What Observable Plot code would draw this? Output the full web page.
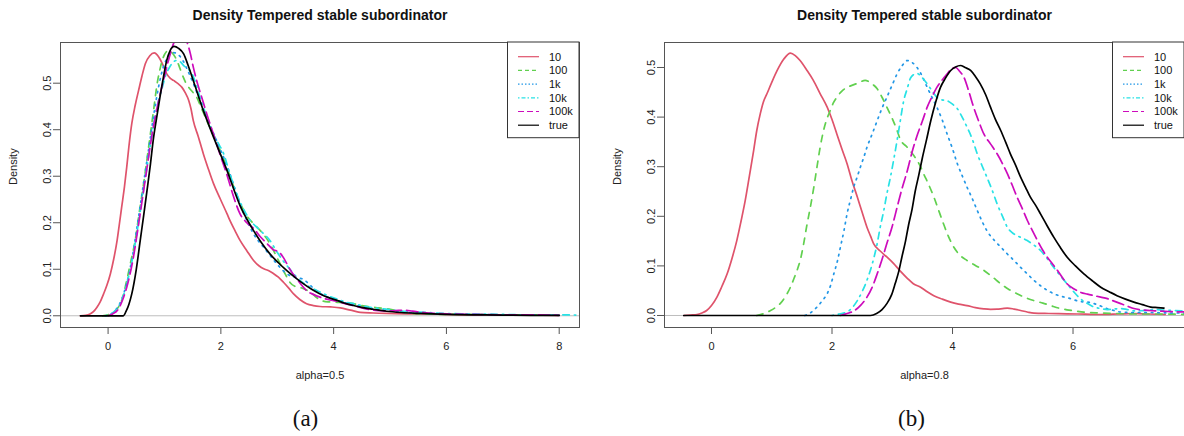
<!DOCTYPE html>
<html>
<head>
<meta charset="utf-8">
<script src="https://cdn.jsdelivr.net/npm/d3@7"></script>
<script src="https://cdn.jsdelivr.net/npm/@observablehq/plot@0.6"></script>
<style>
  html, body { margin: 0; padding: 0; background: #fff; }
  #wrap { display: flex; width: 1184px; height: 436px; overflow: hidden; }
  #wrap > div { width: 592px; height: 436px; }
  svg { display: block; }
</style>
</head>
<body>
<div id="wrap"><div id="pa"></div><div id="pb"></div></div>
<script>
// ---------- data ----------
const seriesNames = ["10", "100", "1k", "10k", "100k", "true"];
const titleText = "Density Tempered stable subordinator";
const xTicks = [0, 2, 4, 6, 8];
const yTicks = [0, 0.1, 0.2, 0.3, 0.4, 0.5];
const xLabels = ["alpha=0.5", "alpha=0.8"];
const captions = ["(a)", "(b)"];

// panel (a): alpha = 0.5
const a10 = [[-0.49,0],[-0.4,0.001],[-0.32,0.004],[-0.26,0.009],[-0.2,0.018],[-0.14,0.03],[-0.08,0.047],[-0.02,0.066],[0.04,0.09],[0.1,0.122],[0.16,0.162],[0.2,0.197],[0.24,0.233],[0.29,0.277],[0.33,0.319],[0.37,0.365],[0.42,0.413],[0.48,0.452],[0.54,0.484],[0.6,0.515],[0.66,0.542],[0.74,0.559],[0.82,0.565],[0.87,0.561],[0.92,0.552],[0.98,0.537],[1.04,0.52],[1.1,0.511],[1.16,0.506],[1.24,0.499],[1.31,0.491],[1.37,0.479],[1.43,0.463],[1.47,0.445],[1.51,0.42],[1.6,0.385],[1.69,0.348],[1.78,0.315],[1.87,0.284],[1.99,0.251],[2.11,0.219],[2.16,0.205],[2.25,0.183],[2.34,0.162],[2.46,0.14],[2.58,0.119],[2.68,0.107],[2.76,0.101],[2.85,0.097],[2.93,0.091],[3.02,0.083],[3.11,0.072],[3.2,0.06],[3.29,0.047],[3.4,0.035],[3.52,0.026],[3.64,0.022],[3.76,0.02],[3.95,0.019],[4.12,0.017],[4.3,0.012],[4.47,0.0075],[4.7,0.006],[4.94,0.005],[5.5,0.004],[6,0.003],[6.5,0.002],[7,0.002],[7.5,0.0015],[7.98,0.001]];
const a100 = [[-0.1,0],[0,0.002],[0.08,0.007],[0.18,0.018],[0.26,0.04],[0.33,0.076],[0.4,0.115],[0.48,0.162],[0.55,0.22],[0.63,0.284],[0.69,0.337],[0.75,0.391],[0.81,0.445],[0.87,0.499],[0.93,0.535],[0.98,0.556],[1.07,0.57],[1.13,0.566],[1.19,0.556],[1.25,0.54],[1.31,0.52],[1.37,0.503],[1.43,0.491],[1.5,0.481],[1.57,0.47],[1.66,0.445],[1.75,0.42],[1.87,0.387],[1.99,0.355],[2.11,0.318],[2.22,0.28],[2.34,0.243],[2.46,0.215],[2.58,0.198],[2.7,0.183],[2.8,0.168],[2.87,0.155],[2.96,0.134],[3.05,0.112],[3.14,0.09],[3.23,0.071],[3.32,0.063],[3.4,0.061],[3.49,0.057],[3.58,0.051],[3.67,0.042],[3.76,0.034],[3.9,0.03],[4.06,0.029],[4.2,0.028],[4.35,0.026],[4.5,0.022],[4.65,0.019],[4.8,0.017],[4.94,0.015],[5.15,0.01],[5.36,0.005],[5.6,0.004],[6,0.003],[6.5,0.003],[7,0.002],[7.5,0.002],[8,0.001]];
const a1k = [[-0.05,0],[0.05,0.004],[0.15,0.015],[0.25,0.038],[0.33,0.07],[0.42,0.12],[0.5,0.18],[0.58,0.245],[0.66,0.31],[0.74,0.375],[0.82,0.44],[0.9,0.495],[0.98,0.535],[1.06,0.556],[1.15,0.566],[1.24,0.562],[1.33,0.548],[1.42,0.525],[1.51,0.5],[1.6,0.472],[1.69,0.445],[1.78,0.418],[1.87,0.392],[1.99,0.358],[2.11,0.322],[2.22,0.284],[2.34,0.24],[2.46,0.205],[2.58,0.176],[2.67,0.16],[2.76,0.147],[2.87,0.13],[2.99,0.112],[3.08,0.1],[3.17,0.09],[3.26,0.085],[3.35,0.082],[3.45,0.079],[3.55,0.07],[3.65,0.058],[3.76,0.048],[3.9,0.04],[4.06,0.034],[4.2,0.028],[4.35,0.024],[4.5,0.02],[4.65,0.016],[4.8,0.013],[4.94,0.011],[5.2,0.008],[5.5,0.006],[6,0.004],[6.5,0.003],[7,0.002],[7.5,0.002],[8,0.001]];
const a10k = [[-0.05,0],[0.05,0.004],[0.15,0.014],[0.25,0.036],[0.33,0.068],[0.42,0.115],[0.5,0.17],[0.58,0.232],[0.66,0.295],[0.74,0.36],[0.82,0.42],[0.9,0.465],[0.96,0.49],[1.01,0.513],[1.07,0.53],[1.13,0.542],[1.22,0.549],[1.28,0.546],[1.34,0.538],[1.42,0.53],[1.49,0.52],[1.56,0.497],[1.63,0.47],[1.72,0.438],[1.81,0.405],[1.93,0.376],[2.05,0.348],[2.16,0.305],[2.28,0.262],[2.4,0.23],[2.52,0.205],[2.64,0.19],[2.76,0.176],[2.87,0.162],[2.98,0.14],[3.08,0.122],[3.17,0.108],[3.28,0.092],[3.4,0.076],[3.52,0.066],[3.64,0.058],[3.76,0.051],[3.9,0.043],[4.06,0.036],[4.2,0.03],[4.35,0.026],[4.5,0.022],[4.65,0.018],[4.8,0.016],[4.94,0.014],[5.2,0.01],[5.5,0.008],[6,0.005],[6.5,0.004],[7,0.003],[7.5,0.002],[8,0.002],[8.5,0.001]];
const a100k = [[0,0],[0.08,0.004],[0.18,0.014],[0.26,0.035],[0.35,0.07],[0.44,0.12],[0.52,0.18],[0.6,0.245],[0.68,0.31],[0.76,0.375],[0.84,0.43],[0.92,0.475],[1,0.515],[1.07,0.549],[1.16,0.585],[1.22,0.6],[1.28,0.605],[1.35,0.6],[1.4,0.588],[1.46,0.563],[1.51,0.535],[1.57,0.506],[1.66,0.47],[1.75,0.434],[1.87,0.39],[1.99,0.345],[2.11,0.302],[2.22,0.258],[2.34,0.219],[2.46,0.2],[2.58,0.188],[2.7,0.17],[2.82,0.155],[2.93,0.142],[3.02,0.138],[3.11,0.125],[3.2,0.105],[3.29,0.088],[3.35,0.079],[3.43,0.066],[3.52,0.054],[3.64,0.046],[3.76,0.04],[3.9,0.035],[4.06,0.031],[4.2,0.026],[4.35,0.022],[4.5,0.017],[4.65,0.013],[4.8,0.011],[4.94,0.01],[5.1,0.011],[5.25,0.012],[5.4,0.01],[5.6,0.007],[6,0.004],[6.5,0.003],[7,0.002],[7.5,0.002],[8,0.001]];
const aTrue = [[-0.49,0],[0,0],[0.27,0],[0.32,0.01],[0.37,0.025],[0.42,0.047],[0.5,0.1],[0.57,0.162],[0.63,0.215],[0.69,0.269],[0.75,0.325],[0.8,0.377],[0.86,0.425],[0.92,0.47],[0.98,0.512],[1.04,0.549],[1.1,0.57],[1.17,0.579],[1.25,0.575],[1.34,0.563],[1.42,0.538],[1.51,0.506],[1.6,0.473],[1.69,0.441],[1.78,0.412],[1.87,0.384],[1.99,0.348],[2.11,0.312],[2.22,0.275],[2.34,0.237],[2.46,0.208],[2.58,0.183],[2.72,0.157],[2.87,0.133],[3.02,0.114],[3.17,0.097],[3.32,0.082],[3.46,0.069],[3.61,0.057],[3.76,0.047],[3.91,0.039],[4.06,0.033],[4.2,0.027],[4.35,0.022],[4.5,0.018],[4.65,0.015],[4.8,0.012],[4.94,0.0097],[5.2,0.007],[5.53,0.005],[6,0.003],[6.5,0.002],[7,0.0015],[7.5,0.001],[8,0.001]];

// panel (b): alpha = 0.8
const b10 = [[-0.46,0],[-0.35,0.001],[-0.24,0.002],[-0.16,0.005],[-0.08,0.01],[0,0.02],[0.09,0.037],[0.17,0.058],[0.26,0.084],[0.34,0.115],[0.42,0.151],[0.49,0.19],[0.56,0.232],[0.63,0.282],[0.7,0.333],[0.75,0.372],[0.81,0.407],[0.86,0.43],[0.92,0.447],[1,0.47],[1.09,0.494],[1.2,0.517],[1.31,0.529],[1.39,0.524],[1.47,0.514],[1.58,0.495],[1.69,0.474],[1.8,0.448],[1.92,0.42],[2,0.395],[2.08,0.366],[2.16,0.337],[2.25,0.306],[2.33,0.272],[2.42,0.239],[2.5,0.208],[2.58,0.178],[2.64,0.16],[2.69,0.145],[2.8,0.13],[2.91,0.118],[3.02,0.105],[3.13,0.09],[3.25,0.075],[3.35,0.064],[3.47,0.057],[3.58,0.048],[3.69,0.04],[3.83,0.033],[3.97,0.027],[4.1,0.023],[4.24,0.02],[4.38,0.016],[4.52,0.0135],[4.63,0.0125],[4.74,0.0128],[4.83,0.014],[4.91,0.015],[5.02,0.013],[5.13,0.01],[5.24,0.007],[5.35,0.0047],[5.6,0.004],[5.9,0.0034],[6.2,0.0027],[6.46,0.002],[6.75,0.003],[7.01,0.004],[7.25,0.003],[7.53,0.002]];
const b100 = [[0.75,0],[0.87,0.004],[0.98,0.01],[1.06,0.016],[1.14,0.024],[1.22,0.037],[1.31,0.057],[1.37,0.075],[1.42,0.091],[1.48,0.115],[1.53,0.145],[1.58,0.18],[1.64,0.218],[1.7,0.26],[1.75,0.299],[1.8,0.337],[1.86,0.373],[1.92,0.398],[1.97,0.413],[2.02,0.428],[2.08,0.44],[2.16,0.452],[2.25,0.46],[2.33,0.464],[2.42,0.468],[2.55,0.474],[2.65,0.468],[2.75,0.457],[2.83,0.44],[2.91,0.42],[3,0.397],[3.08,0.373],[3.13,0.356],[3.25,0.339],[3.36,0.322],[3.47,0.3],[3.52,0.286],[3.6,0.265],[3.69,0.239],[3.77,0.212],[3.85,0.185],[3.93,0.16],[4.02,0.138],[4.12,0.122],[4.24,0.111],[4.38,0.101],[4.52,0.091],[4.66,0.078],[4.8,0.064],[4.93,0.053],[5.07,0.044],[5.21,0.036],[5.35,0.03],[5.5,0.025],[5.63,0.02],[5.76,0.015],[5.9,0.0115],[6.04,0.009],[6.18,0.0067],[6.45,0.005],[6.73,0.004],[7,0.003],[7.4,0.003],[7.9,0.002]];
const b1k = [[1.55,0],[1.65,0.006],[1.75,0.017],[1.84,0.03],[1.92,0.044],[1.98,0.062],[2.03,0.084],[2.09,0.11],[2.14,0.138],[2.2,0.172],[2.25,0.205],[2.31,0.235],[2.36,0.259],[2.42,0.28],[2.47,0.299],[2.53,0.32],[2.58,0.339],[2.67,0.367],[2.75,0.393],[2.83,0.418],[2.91,0.44],[3,0.465],[3.08,0.487],[3.16,0.503],[3.25,0.514],[3.33,0.51],[3.41,0.5],[3.5,0.482],[3.58,0.46],[3.66,0.44],[3.74,0.42],[3.83,0.394],[3.91,0.366],[4,0.336],[4.08,0.306],[4.16,0.282],[4.24,0.259],[4.33,0.235],[4.41,0.212],[4.49,0.19],[4.57,0.171],[4.69,0.152],[4.8,0.138],[4.91,0.124],[5.02,0.111],[5.13,0.097],[5.24,0.084],[5.35,0.071],[5.46,0.06],[5.57,0.051],[5.68,0.044],[5.79,0.039],[5.9,0.036],[6.01,0.032],[6.12,0.028],[6.24,0.027],[6.35,0.024],[6.46,0.019],[6.57,0.0135],[6.68,0.01],[6.79,0.007],[7,0.006],[7.3,0.006],[7.6,0.005],[7.9,0.005]];
const b10k = [[2,0],[2.12,0.003],[2.25,0.007],[2.33,0.015],[2.42,0.03],[2.5,0.048],[2.58,0.071],[2.67,0.105],[2.75,0.145],[2.8,0.178],[2.86,0.212],[2.91,0.245],[2.97,0.279],[3.03,0.318],[3.08,0.353],[3.13,0.39],[3.19,0.433],[3.25,0.458],[3.3,0.478],[3.36,0.486],[3.41,0.488],[3.5,0.479],[3.58,0.467],[3.66,0.453],[3.74,0.44],[3.82,0.435],[3.91,0.433],[4,0.426],[4.08,0.417],[4.16,0.4],[4.24,0.38],[4.33,0.355],[4.41,0.326],[4.49,0.302],[4.57,0.279],[4.66,0.252],[4.74,0.225],[4.83,0.2],[4.91,0.178],[4.99,0.167],[5.07,0.161],[5.16,0.156],[5.24,0.151],[5.35,0.142],[5.46,0.131],[5.57,0.115],[5.68,0.097],[5.79,0.08],[5.9,0.064],[6.01,0.048],[6.12,0.034],[6.24,0.024],[6.35,0.017],[6.46,0.014],[6.57,0.012],[6.68,0.013],[6.79,0.014],[6.9,0.012],[7.01,0.0094],[7.18,0.01],[7.35,0.012],[7.5,0.011],[7.7,0.01],[7.9,0.009]];
const b100k = [[2.14,0],[2.25,0.004],[2.36,0.009],[2.47,0.02],[2.58,0.037],[2.67,0.058],[2.75,0.084],[2.83,0.113],[2.91,0.145],[3,0.18],[3.08,0.218],[3.16,0.255],[3.25,0.292],[3.33,0.33],[3.41,0.362],[3.5,0.392],[3.58,0.42],[3.66,0.441],[3.74,0.46],[3.83,0.475],[3.91,0.487],[3.98,0.497],[4.05,0.5],[4.12,0.492],[4.19,0.48],[4.27,0.452],[4.35,0.42],[4.44,0.39],[4.52,0.366],[4.63,0.346],[4.74,0.326],[4.83,0.306],[4.91,0.286],[4.99,0.263],[5.07,0.239],[5.16,0.215],[5.24,0.192],[5.33,0.17],[5.41,0.151],[5.49,0.133],[5.57,0.118],[5.66,0.104],[5.74,0.091],[5.82,0.077],[5.9,0.064],[6.01,0.054],[6.12,0.047],[6.24,0.043],[6.35,0.04],[6.46,0.037],[6.57,0.034],[6.68,0.029],[6.79,0.024],[6.9,0.019],[7.01,0.014],[7.18,0.011],[7.35,0.0094],[7.6,0.008],[7.9,0.007]];
const bTrue = [[-0.46,0],[1,0],[2,0],[2.64,0],[2.74,0.004],[2.83,0.012],[2.91,0.024],[2.99,0.042],[3.05,0.065],[3.11,0.09],[3.16,0.118],[3.22,0.15],[3.27,0.182],[3.33,0.215],[3.38,0.25],[3.44,0.283],[3.5,0.318],[3.57,0.355],[3.64,0.393],[3.72,0.43],[3.8,0.46],[3.88,0.478],[3.97,0.494],[4.05,0.501],[4.13,0.504],[4.21,0.5],[4.3,0.494],[4.38,0.482],[4.46,0.467],[4.55,0.445],[4.63,0.42],[4.71,0.396],[4.8,0.373],[4.88,0.35],[4.96,0.326],[5.05,0.302],[5.13,0.279],[5.21,0.259],[5.29,0.239],[5.38,0.222],[5.46,0.205],[5.57,0.181],[5.68,0.158],[5.79,0.137],[5.9,0.118],[6.04,0.1],[6.18,0.084],[6.32,0.07],[6.46,0.057],[6.6,0.048],[6.73,0.04],[6.87,0.033],[7.01,0.027],[7.15,0.022],[7.29,0.017],[7.4,0.016],[7.51,0.015]];

// ---------- styles ----------
const seriesColors = ["#DF536B", "#61D04F", "#2297E6", "#28E2E5", "#CD0BBC", "#000000"];
const dashPlot = [null, "6.5,6.5", "1.5,5", "1.5,5,6.5,5", "11.5,5", null];
const dashLegend = [null, "4,3", "1.5,2", "1.5,2,4,2", "6,3", null];
const FONT = "'Liberation Sans', Arial, Helvetica, sans-serif";

function panel(el, seriesData, opts) {
  const lines = seriesData.map((arr, i) => Plot.line(arr, {
    x: d => d[0], y: d => d[1],
    stroke: seriesColors[i], strokeWidth: 1.7,
    strokeDasharray: dashPlot[i] || undefined,
    strokeLinecap: "round", strokeLinejoin: "round",
    curve: "monotone-x", clip: true
  }));
  const plot = Plot.plot({
    width: 592, height: 436,
    marginTop: 42, marginBottom: 109,
    marginLeft: opts.marginLeft, marginRight: opts.marginRight,
    style: { fontFamily: FONT, background: "#fff", overflow: "visible", color: "#222" },
    x: { domain: opts.xDomain },
    y: { domain: opts.yDomain },
    marks: [
      Plot.ruleY([0], { stroke: "#BEBEBE", strokeWidth: 1 }),
      ...lines,
      Plot.frame({ stroke: "#555", strokeWidth: 1 }),
      Plot.axisX(xTicks.filter(t => t <= opts.xDomain[1]), {
        tickSize: 7, tickPadding: 8, fontSize: 11, label: null,
        tickFormat: d => String(d), stroke: "#555"
      }),
      Plot.axisY(yTicks, {
        tickSize: 7, tickRotate: -90, fontSize: 11, label: null,
        tickFormat: d => d.toFixed(1), stroke: "#555"
      }),
      Plot.text([titleText], { frameAnchor: "top", lineAnchor: "middle", dy: -27,
        fontSize: 14, fontWeight: "bold", fill: "#111" }),
      Plot.text([opts.xLabel], { frameAnchor: "bottom", lineAnchor: "middle", dy: 48,
        fontSize: 11, fill: "#222" }),
      Plot.text(["Density"], { frameAnchor: "left", lineAnchor: "middle", dx: -47,
        rotate: -90, fontSize: 11, fill: "#222" }),
      Plot.text([opts.caption], { frameAnchor: "bottom", lineAnchor: "middle",
        dy: 91, dx: opts.captionDx, fontSize: 23,
        fontFamily: "'Liberation Serif', 'DejaVu Serif', serif", fill: "#111" })
    ]
  });
  el.appendChild(plot);

  // legend (top-right inside frame)
  const svg = d3.select(plot);
  const right = 592 - opts.marginRight;
  const lw = 71.5, lh = 95.7;
  const g = svg.append("g").attr("transform", `translate(${right - lw},42)`)
    .attr("text-anchor", "start");
  g.append("rect").attr("x", 0).attr("y", 0).attr("width", lw).attr("height", lh)
    .attr("fill", "#fff").attr("stroke", "#333").attr("stroke-width", 1);
  seriesNames.forEach((name, i) => {
    const y = 14.7 + 13.7 * i;
    g.append("line").attr("x1", 10.5).attr("x2", 31.5).attr("y1", y).attr("y2", y)
      .attr("stroke", seriesColors[i]).attr("stroke-width", 1.2)
      .attr("stroke-dasharray", dashLegend[i])
      .attr("stroke-linecap", "butt");
    g.append("text").attr("x", 41.5).attr("y", y).attr("dy", "0.35em")
      .attr("text-anchor", "start")
      .attr("font-size", 11).attr("font-family", FONT).attr("fill", "#111")
      .text(name);
  });
}

panel(document.getElementById("pa"), [a10, a100, a1k, a10k, a100k, aTrue], {
  marginLeft: 60, marginRight: 13,
  xDomain: [-0.844, 8.36], yDomain: [-0.0252, 0.5875],
  xLabel: xLabels[0], caption: captions[0], captionDx: -14.5
});
panel(document.getElementById("pb"), [b10, b100, b1k, b10k, b100k, bTrue], {
  marginLeft: 72, marginRight: 0,
  xDomain: [-0.78, 7.85], yDomain: [-0.0242, 0.5504],
  xLabel: xLabels[1], caption: captions[1], captionDx: -13
});
</script>
</body>
</html>
